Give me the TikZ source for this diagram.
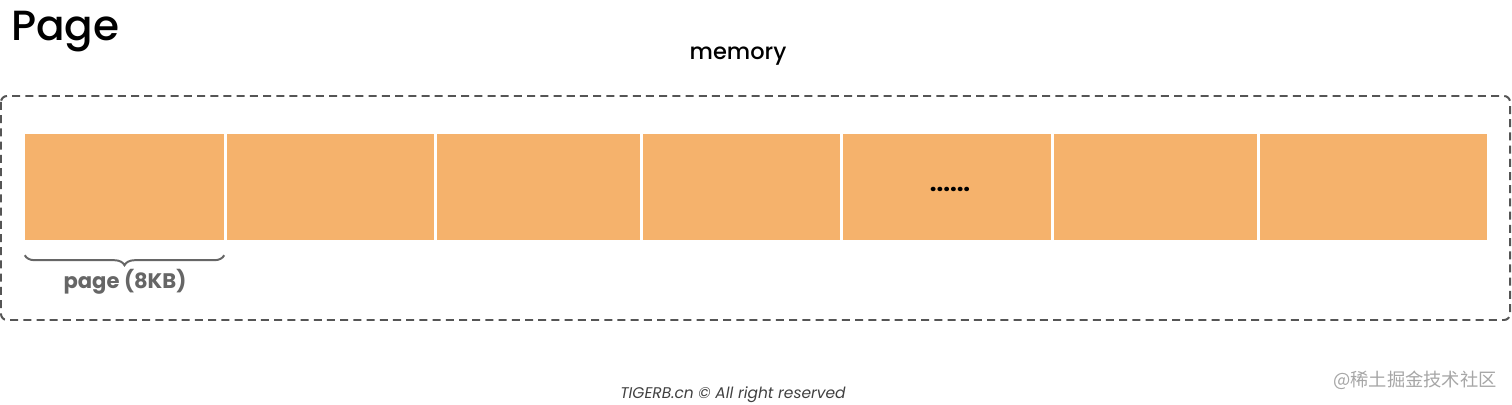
\documentclass[tikz,border=0pt]{standalone}
\usepackage{fontspec}
\setmainfont{Poppins}
\newfontfamily\mediumfont{Poppins Medium}
\newfontfamily\cjkfont{Noto Sans CJK SC}
\usetikzlibrary{decorations.pathreplacing}
\definecolor{pageorange}{HTML}{F5B26C}
\definecolor{framegray}{HTML}{555555}
\definecolor{bracegray}{HTML}{666666}

\begin{document}
\begin{tikzpicture}[x=0.025cm,y=-0.025cm,line width=0.3pt,
  pagecell/.style={fill=pageorange,draw=none,inner sep=0pt,minimum height=2.65cm},
  memframe/.style={draw=framegray,line width=1.4pt,dash pattern=on 0.2cm off 0.13cm,rounded corners=0.15cm},
  pagebrace/.style={draw=bracegray,line width=1.4pt,decorate,decoration={brace,mirror,amplitude=0.25cm}}]
\useasboundingbox (0,0) rectangle (1512,405);
\node[anchor=base west,inner sep=0pt,font=\mediumfont\fontsize{30}{36}\selectfont] (title) at (11,41) {Page};
\node[anchor=base,inner sep=0pt,font=\mediumfont\fontsize{16}{19}\selectfont] (memlabel) at (738,60) {memory};
\draw[memframe] (1,96) rectangle (1510,320);
\foreach \l/\r [count=\i] in {25/224,227/434,437/640,643/840,843/1051,1054/1257,1260/1487}
  \node[pagecell,minimum width=(\r-\l)*0.025cm] (p\i) at ({(\l+\r)/2},187) {};
\node[anchor=base,inner sep=0pt,font=\fontsize{17}{20}\selectfont\bfseries] (dots) at (950,192) {......};
\draw[pagebrace] ([yshift=-0.375cm]p1.south west) -- ([yshift=-0.375cm]p1.south east)
  coordinate[midway] (bracemid);
\node[anchor=base,inner sep=0pt,text=bracegray,font=\fontsize{15}{18}\selectfont\bfseries] (pagelabel) at (125,289) {page (8KB)};
\node[anchor=base,inner sep=0pt,text=black!75,font=\fontsize{11}{13}\selectfont\itshape] (footer) at (733,399) {TIGERB.cn © All right reserved};
\node[anchor=east,inner sep=0pt,text=black!35,font=\cjkfont\fontsize{13}{15}\selectfont] (watermark) at (1497,380) {@稀土掘金技术社区};
\end{tikzpicture}
\end{document}
